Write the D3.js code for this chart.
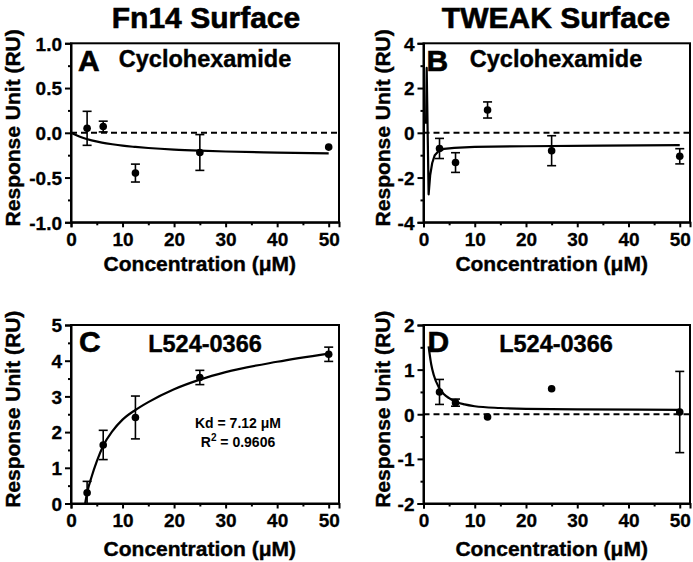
<!DOCTYPE html>
<html><head><meta charset="utf-8">
<script src="https://cdn.jsdelivr.net/npm/d3@7"></script>
<style>
body{margin:0;background:#fff}
svg{display:block}
text{font-family:"Liberation Sans",Arial,Helvetica,sans-serif;font-weight:bold;fill:#000}
</style>
</head><body>
<svg id="chart" width="693" height="562"></svg>
<script>
// ---- data ----
const conc = [3.125, 6.25, 12.5, 25, 50];
const aMean = [0.05, 0.07, -0.45, -0.22, -0.16];
const aErr  = [0.19, 0.06, 0.10, 0.20, 0];
const bMean = [-0.70, -1.33, 1.02, -0.80, -1.05];
const bErr  = [0.45, 0.44, 0.36, 0.67, 0.34];
const cMean = [0.30, 1.64, 2.41, 3.53, 4.18];
const cErr  = [0.32, 0.41, 0.60, 0.20, 0.20];
const dMean = [0.50, 0.26, -0.06, 0.57, 0.05];
const dErr  = [0.28, 0.08, 0, 0, 0.91];

const aFitX = [0, 2, 4, 6, 8, 10, 12.5, 15, 20, 25, 30, 40, 50];
const aFitY = [0, -0.05, -0.084, -0.109, -0.128, -0.144, -0.158, -0.17, -0.188, -0.2, -0.209, -0.221, -0.23];
const bFitX = [0.5, 0.62, 1.0, 1.3, 1.7, 2.2, 3, 4, 6, 10, 20, 35, 50];
const bFitY = [0.4, 2.9, -2.75, -1.9, -1.35, -1.0, -0.8, -0.72, -0.67, -0.63, -0.6, -0.57, -0.55];
const cFitX = [2.75, 3.125, 4, 5, 6.25, 8, 10, 12.5, 15, 20, 25, 30, 40, 50];
const cFitY = [0, 0.3, 0.75, 1.18, 1.62, 2.02, 2.35, 2.62, 2.84, 3.2, 3.47, 3.68, 3.97, 4.2];
const dFitX = [1, 1.5, 2, 3, 4, 5, 6.25, 8, 10, 15, 20, 30, 50];
const dFitY = [1.52, 1.12, 0.88, 0.6, 0.45, 0.36, 0.28, 0.22, 0.18, 0.14, 0.12, 0.11, 0.1];

const xTicks = [0, 10, 20, 30, 40, 50];
const xMinor = [5, 15, 25, 35, 45];
const aYTicks = [-1, -0.5, 0, 0.5, 1];
const aYMinor = [-0.75, -0.25, 0.25, 0.75];
const bYTicks = [-4, -2, 0, 2, 4];
const bYMinor = [-3, -1, 1, 3];
const cYTicks = [0, 1, 2, 3, 4, 5];
const cYMinor = [0.5, 1.5, 2.5, 3.5, 4.5];
const dYTicks = [-2, -1, 0, 1, 2];
const dYMinor = [-1.5, -0.5, 0.5, 1.5];

const titles = ["Fn14 Surface", "TWEAK Surface"];
const letters = ["A", "B", "C", "D"];
const compounds = ["Cyclohexamide", "Cyclohexamide", "L524-0366", "L524-0366"];
const xLabel = "Concentration (\u03BCM)";
const yLabel = "Response Unit (RU)";
const kdText = "Kd = 7.12 \u03BCM";
const r2Text = "0.9606";

// ---- drawing ----
const svg = d3.select("#chart");
svg.append("rect").attr("width", 693).attr("height", 562).attr("fill", "#fff");

function heavy(sel, w) {
  return sel.attr("stroke", "#000").attr("stroke-width", w).attr("paint-order", "stroke");
}

heavy(svg.append("text").attr("x", 206).attr("y", 28).attr("text-anchor", "middle")
  .style("font-size", "30px").text(titles[0]), 0.6);
heavy(svg.append("text").attr("x", 556).attr("y", 28).attr("text-anchor", "middle")
  .style("font-size", "30px").text(titles[1]), 0.6);

function panel(o) {
  const x = d3.scaleLinear().domain([0, 52]).range(o.xr);
  const y = d3.scaleLinear().domain(o.yd).range(o.yr);
  const g = svg.append("g");
  const x0 = o.xr[0], x1 = o.xr[1], yb = o.yr[0], yt = o.yr[1];

  // frame
  g.append("rect").attr("x", x0).attr("y", yt).attr("width", x1 - x0).attr("height", yb - yt)
    .attr("fill", "none").attr("stroke", "#000").attr("stroke-width", 2);

  // y axis
  const ya = g.append("g").attr("transform", `translate(${x0},0)`)
    .call(d3.axisLeft(y).tickValues(o.yt).tickSize(6).tickPadding(3).tickFormat(o.fmt));
  ya.select(".domain").attr("stroke-width", 2);
  ya.selectAll(".tick line").attr("stroke-width", 2);
  heavy(ya.selectAll(".tick text").style("font-size", "19px").style("font-family", null)
    .attr("dy", "0.36em"), 0.3);
  const ym = g.append("g").attr("transform", `translate(${x0},0)`)
    .call(d3.axisLeft(y).tickValues(o.ym).tickSize(3).tickFormat(""));
  ym.select(".domain").remove();
  ym.selectAll(".tick line").attr("stroke-width", 2);

  // x axis
  const xa = g.append("g").attr("transform", `translate(0,${yb})`)
    .call(d3.axisBottom(x).tickValues(xTicks).tickSize(5).tickPadding(5).tickFormat(d3.format("d")));
  xa.select(".domain").attr("stroke-width", 2);
  xa.selectAll(".tick line").attr("stroke-width", 2);
  heavy(xa.selectAll(".tick text").style("font-size", "19px").style("font-family", null), 0.3);
  const xm = g.append("g").attr("transform", `translate(0,${yb})`)
    .call(d3.axisBottom(x).tickValues(xMinor).tickSize(3).tickFormat(""));
  xm.select(".domain").remove();
  xm.selectAll(".tick line").attr("stroke-width", 2);
  g.selectAll(".domain").attr("stroke", "#000");

  // zero dashed line
  if (o.zero) {
    g.append("line").attr("x1", x(0)).attr("x2", x1).attr("y1", y(0)).attr("y2", y(0))
      .attr("stroke", "#000").attr("stroke-width", 2).attr("stroke-dasharray", "6,4");
  }

  // fit curve
  const fit = o.fx.map((v, i) => [v, o.fy[i]]);
  g.append("path").datum(fit)
    .attr("d", d3.line().x(d => x(d[0])).y(d => y(d[1])).curve(o.linear ? d3.curveLinear : d3.curveMonotoneX))
    .attr("fill", "none").attr("stroke", "#000").attr("stroke-width", 2.2)
    .attr("stroke-linejoin", "round");

  // error bars and points
  const pts = conc.map((c, i) => ({c, m: o.mean[i], e: o.err[i]}));
  const eb = g.append("g").attr("stroke", "#000").attr("stroke-width", 1.6);
  pts.filter(p => p.e > 0).forEach(p => {
    eb.append("line").attr("x1", x(p.c)).attr("x2", x(p.c)).attr("y1", y(p.m - p.e)).attr("y2", y(p.m + p.e));
    [p.m - p.e, p.m + p.e].forEach(v => {
      eb.append("line").attr("x1", x(p.c) - 4.5).attr("x2", x(p.c) + 4.5).attr("y1", y(v)).attr("y2", y(v));
    });
  });
  g.selectAll("circle.pt").data(pts).join("circle").attr("class", "pt")
    .attr("cx", p => x(p.c)).attr("cy", p => y(p.m)).attr("r", 3.8).attr("fill", "#000");

  // labels inside
  heavy(g.append("text").attr("x", x0 + o.lx).attr("y", yt + o.ly).style("font-size", "30px").text(o.letter), 0.6);
  heavy(g.append("text").attr("x", o.cx).attr("y", yt + o.cy).attr("text-anchor", "middle")
    .style("font-size", "23.5px").text(o.comp), 0.4);

  // axis titles
  heavy(g.append("text").attr("x", (x(0) + x(50)) / 2).attr("y", o.xlY)
    .attr("text-anchor", "middle").style("font-size", "21px").text(xLabel), 0.4);
  heavy(g.append("text").attr("transform", `translate(${o.ylX},${(yt + yb) / 2 - 5}) rotate(-90)`)
    .attr("text-anchor", "middle").style("font-size", "21px").text(yLabel), 0.4);
  return {x, y, g};
}

const fmt1 = d => d.toFixed(1);
const fmt0 = d => String(d);

panel({xr: [71, 339], yr: [222.3, 43.3], yd: [-1, 1], yt: aYTicks, ym: aYMinor, fmt: fmt1,
  mean: aMean, err: aErr, fx: aFitX, fy: aFitY, zero: true,
  letter: letters[0], comp: compounds[0], lx: 7, ly: 28, cx: 205, cy: 24, xlY: 271, ylX: 20});
panel({xr: [423.5, 690], yr: [222.3, 43.3], yd: [-4, 4], yt: bYTicks, ym: bYMinor, fmt: fmt0,
  mean: bMean, err: bErr, fx: bFitX, fy: bFitY, zero: true, linear: true,
  letter: letters[1], comp: compounds[1], lx: 3, ly: 28, cx: 556, cy: 24, xlY: 271, ylX: 390});
const pc = panel({xr: [71, 339], yr: [503.5, 325], yd: [0, 5], yt: cYTicks, ym: cYMinor, fmt: fmt0,
  mean: cMean, err: cErr, fx: cFitX, fy: cFitY, zero: false,
  letter: letters[2], comp: compounds[2], lx: 8, ly: 27, cx: 205, cy: 27, xlY: 556, ylX: 20});
panel({xr: [423.5, 690], yr: [503.5, 325], yd: [-2, 2], yt: dYTicks, ym: dYMinor, fmt: fmt0,
  mean: dMean, err: dErr, fx: dFitX, fy: dFitY, zero: true,
  letter: letters[3], comp: compounds[3], lx: 4, ly: 27, cx: 556, cy: 27, xlY: 556, ylX: 390});

// Kd annotation in panel C
pc.g.append("text").attr("x", 238).attr("y", 428).attr("text-anchor", "middle")
  .style("font-size", "14px").text(kdText);
const r2 = pc.g.append("text").attr("x", 238).attr("y", 447).attr("text-anchor", "middle")
  .style("font-size", "14px");
r2.append("tspan").text("R");
r2.append("tspan").attr("dy", -6).style("font-size", "10px").text("2");
r2.append("tspan").attr("dy", 6).text(" = " + r2Text);
</script>
</body></html>
